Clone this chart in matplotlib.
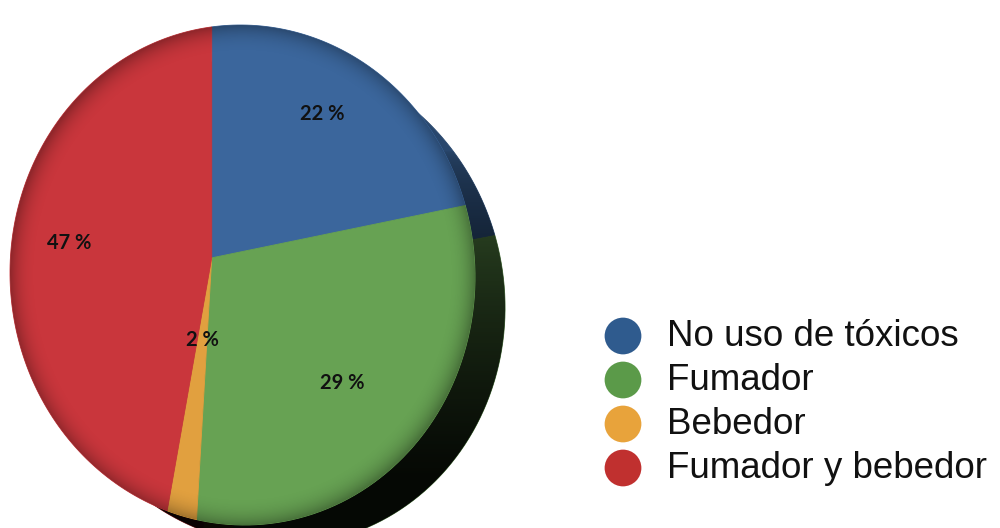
import numpy as np
import matplotlib
matplotlib.use('Agg')
import matplotlib.pyplot as plt
from matplotlib.patches import Circle
from matplotlib.path import Path
from matplotlib.transforms import Transform, Affine2D

# Consumo de tóxicos
categories = ['No uso de tóxicos', 'Fumador', 'Bebedor', 'Fumador y bebedor']
values = [22, 29, 2, 47]
pct_labels = ['22 %', '29 %', '2 %', '47 %']

face_colors = ['#3b669c', '#67a253', '#e1a03f', '#c9363c']
legend_colors = ['#2f5b8e', '#5b9a49', '#e8a33b', '#c0302f']


class DiscProjection(Transform):
    """Perspective view of the unit disc, fitted into a pixel box (y down)."""
    input_dims = output_dims = 2
    is_separable = False
    has_inverse = False

    def __init__(self, g, h, box):
        super().__init__()
        self.g, self.h, self.box = g, h, box
        t = np.linspace(0, 2 * np.pi, 2000)
        uv = self._proj(np.column_stack([np.cos(t), np.sin(t)]))
        self.umin, self.umax = uv[:, 0].min(), uv[:, 0].max()
        self.vmin, self.vmax = uv[:, 1].min(), uv[:, 1].max()

    def _proj(self, xy):
        xy = np.asarray(xy, float)
        d = 1 + self.g * xy[:, 0] + self.h * xy[:, 1]
        return xy / d[:, None]

    def transform_non_affine(self, values):
        uv = self._proj(values)
        x0, x1, y0, y1 = self.box
        X = x0 + (uv[:, 0] - self.umin) / (self.umax - self.umin) * (x1 - x0)
        Y = y0 + (self.vmax - uv[:, 1]) / (self.vmax - self.vmin) * (y1 - y0)
        return np.column_stack([X, Y])

    def transform_path_non_affine(self, path):
        # flatten the bezier arcs first so the projection bends them properly
        big = Affine2D().scale(1000).transform_path(path)
        v = np.concatenate(big.to_polygons(closed_only=False)) / 1000
        return Path(self.transform_non_affine(v))


W, H = 1000, 528
fig = plt.figure(figsize=(W / 100, H / 100), dpi=100)
fig.patch.set_facecolor('white')
ax = fig.add_axes([0, 0, 1, 1])

proj = DiscProjection(-0.132, 0.068, (10, 475, 25, 525))
disc_trans = proj + ax.transData

# extruded back face, shifted right/down and darkened
back_c = (0.14, -0.10)
back_r = 0.95
dark = [tuple(np.array(matplotlib.colors.to_rgb(c)) * 0.7) for c in face_colors]
back_wedges, _ = ax.pie(values, colors=dark, startangle=90, counterclock=False,
                        radius=back_r, center=back_c)
for w, c in zip(back_wedges, dark):
    w.set(transform=disc_trans, zorder=1, edgecolor=c, linewidth=0.6)

grad = np.linspace(0, 1, 256).reshape(-1, 1)
shade = np.zeros((256, 1, 4))
shade[..., 3] = np.clip(grad ** 0.5, 0, 0.93)
im = ax.imshow(shade, extent=(150, 540, 528, 150), aspect='auto', zorder=2,
               interpolation='bilinear')
im.set_clip_path(Circle(back_c, back_r, transform=disc_trans))

# front face
wedges, _ = ax.pie(values, colors=face_colors, startangle=90, counterclock=False,
                   radius=1.0, center=(0, 0))
for w, c in zip(wedges, face_colors):
    w.set(transform=disc_trans, zorder=3, edgecolor=c, linewidth=0.6)

# soft rim darkening on the front face
yy, xx = np.mgrid[25:525:500j, 10:475:465j]
rr = np.sqrt(((xx - 242.5) / 232.5) ** 2 + ((yy - 275) / 250) ** 2)
vign = np.zeros(rr.shape + (4,))
vign[..., 3] = np.clip((rr - 0.88) / 0.12, 0, 1) ** 2.5 * 0.28
im2 = ax.imshow(vign, extent=(10, 475, 525, 25), aspect='auto', zorder=4,
                interpolation='bilinear')
im2.set_clip_path(Circle((0, 0), 1.0, transform=disc_trans))

# percentage labels along each wedge's mid angle
label_dist = [0.74, 0.69, 0.33, 0.69]
for w, txt, d in zip(wedges, pct_labels, label_dist):
    ang = np.deg2rad((w.theta1 + w.theta2) / 2)
    px, py = proj.transform_non_affine([[d * np.cos(ang), d * np.sin(ang)]])[0]
    ax.text(px, py, txt, ha='center', va='center', fontsize=14.5,
            fontweight='bold', family='Lato', color='#111111', zorder=6)

# legend
for i, (name, col) in enumerate(zip(categories, legend_colors)):
    y = 336 + i * 44
    ax.scatter([623], [y], s=700, color=col, edgecolors='none', zorder=6)
    ax.text(667, y + 1, name, ha='left', va='center', fontsize=26.5,
            family='Liberation Sans', color='#111111', zorder=6)

ax.set_xlim(0, W)
ax.set_ylim(H, 0)
ax.set_aspect('auto')
ax.axis('off')

fig.savefig('out.png', dpi=100, facecolor='white')
